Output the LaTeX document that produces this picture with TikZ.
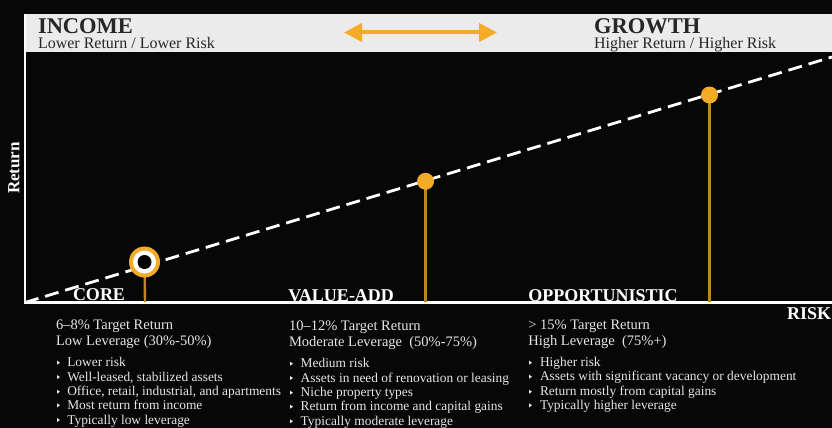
\documentclass[tikz,border=0pt]{standalone}
\usepackage{fontspec}
\setmainfont{Liberation Serif}
\usetikzlibrary{arrows.meta}
\definecolor{bg}{HTML}{070707}
\definecolor{band}{HTML}{EBEBEB}
\definecolor{ink}{HTML}{262626}
\definecolor{gold}{HTML}{F4AB28}
\definecolor{stem}{HTML}{C08520}
\definecolor{body}{HTML}{E6E6E6}
\begin{document}
\begin{tikzpicture}[x=1pt,y=-1pt,
  every node/.style={inner sep=0pt,outer sep=0pt},
  headtitle/.style={anchor=base west,text=ink,text depth=0pt,font=\bfseries\fontsize{22.5}{24}\selectfont},
  headsub/.style={anchor=base west,text=ink,text height=10pt,font=\fontsize{16}{18}\selectfont},
  tier/.style={anchor=base west,text=white,font=\bfseries\fontsize{18}{20}\selectfont},
  lead/.style={anchor=base west,text=body,font=\fontsize{14.5}{16}\selectfont},
  item/.style={anchor=base west,text=body,font=\fontsize{13.4}{15}\selectfont},
  axis/.style={draw=white,line width=2.2pt},
  trend/.style={draw=white,line width=2.8pt,dash pattern=on 14pt off 7pt},
  stemline/.style={draw=stem,line width=2.4pt},
  tick/.style={fill=body}]
\fill[bg] (0,0) rectangle (832,428);
\useasboundingbox (0,0) rectangle (832,428);

% header band
\fill[band] (25,14) rectangle (832,52);
\node[headtitle] (income) at (38,34) {INCOME};
\node[headsub] (incsub) at (38,48.5) {Lower Return / Lower Risk};
\node[headtitle] (growth) at (594,34) {GROWTH};
\node[headsub] (grsub) at (594,48.5) {Higher Return / Higher Risk};
\coordinate (arL) at (344,32.5);
\coordinate (arR) at (497,32.5);
\draw[gold,line width=4pt,{Triangle[length=18pt,width=18pt]}-{Triangle[length=18pt,width=18pt]}] (arL) -- (arR);

% axes
\coordinate (origin) at (25,302.5);
\coordinate (ytop) at (25,14);
\coordinate (xend) at (832,302.5);
\draw[axis] (ytop) -- (origin) -- (xend);
\node[anchor=center,rotate=90,text=white,font=\bfseries\fontsize{17}{19}\selectfont] (ylab) at (14,168) {Return};
\node[tier] (risk) at (787,319.5) {RISK};

% trend line
\coordinate (tend) at (832,57);
\draw[trend] (origin) -- (tend);

% markers and stems
\coordinate (cbase) at (145,302);
\coordinate (vbase) at (425.5,302);
\coordinate (obase) at (709.5,302);
\coordinate (cdot) at (144.5,262);
\coordinate (vdot) at (425.5,181.3);
\coordinate (odot) at (709.5,95);
\draw[stemline] (cdot) -- (cbase);
\draw[stemline] (vdot) -- (vbase);
\draw[stemline] (odot) -- (obase);
\fill[gold] (cdot) circle (15.5);
\fill[white] (cdot) circle (11.5);
\fill[black] (cdot) circle (7);
\fill[gold] (vdot) circle (8.5);
\fill[gold] (odot) circle (8.5);

% tier labels
\node[tier] (core) at (73,300.8) {CORE};
\node[tier] (value) at (288.3,301) {VALUE-ADD};
\node[tier] (opp) at (528.3,301) {OPPORTUNISTIC};

% core column
\node[lead] (c1) at (56,329) {6–8\% Target Return};
\node[lead] (c2) at (56,345) {Low Leverage (30\%-50\%)};
\foreach \t/\yy [count=\i] in {Lower risk/366.7,
  {Well-leased, stabilized assets}/381,
  {Office, retail, industrial, and apartments}/395.7,
  Most return from income/409.3,
  Typically low leverage/424}{
  \fill[tick] (57,\yy-6) -- (57,\yy-2) -- (60,\yy-4) -- cycle;
  \node[item] (ci\i) at (67.3,\yy) {\t};
}

% value-add column
\node[lead] (v1) at (289,330) {10–12\% Target Return};
\node[lead] (v2) at (289,346) {Moderate Leverage~ (50\%-75\%)};
\foreach \t/\yy [count=\i] in {Medium risk/367.7,
  Assets in need of renovation or leasing/382,
  Niche property types/396.7,
  Return from income and capital gains/410.7,
  Typically moderate leverage/425.3}{
  \fill[tick] (290,\yy-6) -- (290,\yy-2) -- (293,\yy-4) -- cycle;
  \node[item] (vi\i) at (300.7,\yy) {\t};
}

% opportunistic column
\node[lead] (o1) at (528.3,329) {> 15\% Target Return};
\node[lead] (o2) at (528.3,345) {High Leverage~ (75\%+)};
\foreach \t/\yy [count=\i] in {Higher risk/366.7,
  Assets with significant vacancy or development/380.7,
  Return mostly from capital gains/395.7,
  Typically higher leverage/409.3}{
  \fill[tick] (529,\yy-6) -- (529,\yy-2) -- (532,\yy-4) -- cycle;
  \node[item] (oi\i) at (540,\yy) {\t};
}
\end{tikzpicture}
\end{document}
